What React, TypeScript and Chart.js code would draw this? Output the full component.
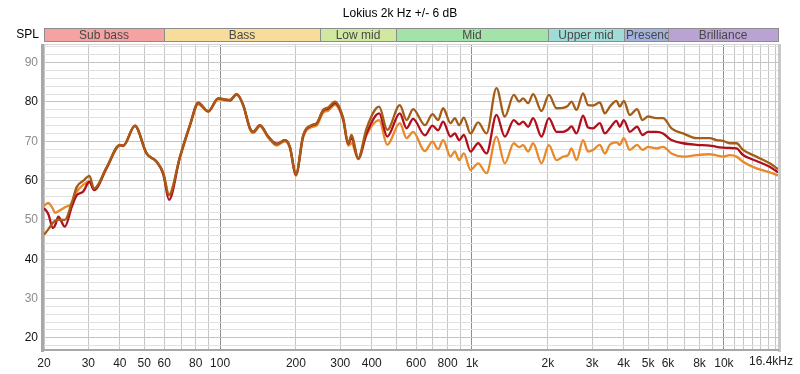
import React, { useEffect, useRef } from 'react';
import { Chart, registerables } from 'chart.js';

Chart.register(...registerables);

const TITLE = 'Lokius 2k Hz +/- 6 dB';
const Y_TITLE = 'SPL';

const FREQS = [
  20, 20.8, 21.7, 22.1, 22.8, 24.2, 25.8, 27, 28.6, 30.3,
  31.6, 35.5, 40, 41.3, 45.9, 51.1, 56, 59.5, 62.7, 69.3,
  75.9, 81.9, 89.7, 98.3, 109.4, 116.3, 123.6, 131.4, 135.4, 143.9,
  155.3, 167.7, 180.9, 189.3, 200, 213.8, 230.8, 241.6, 256.7, 268.8,
  285.6, 308.2, 322.6, 332.7, 353.4, 381.6, 428, 461, 517, 550,
  584, 650, 697, 734, 768, 822, 855, 889, 928, 987,
  1058, 1142, 1251, 1350, 1466, 1539, 1596, 1671, 1749, 1888,
  2020, 2166, 2300, 2408, 2483, 2600, 2761, 2890, 3026, 3217,
  3368, 3524, 3748, 3862, 4006, 4231, 4523, 4751, 5000, 5400,
  5735, 6194, 6886, 7783, 8790, 9339, 9922, 10552, 11220, 11914,
  13464, 15205, 16400,
];

const BOOST = [
  46.2, 47.6, 49.3, 49.7, 50.0, 50.0, 54.5, 58.4, 59.9, 61.2,
  58.0, 63.5, 69.1, 69.0, 74.0, 66.9, 64.8, 61.9, 56.3, 66.1,
  74.1, 79.7, 77.7, 80.9, 80.5, 82.0, 79.2, 73.3, 72.4, 74.1,
  71.2, 69.2, 70.3, 68.6, 61.6, 71.6, 74.1, 74.6, 78.0, 78.6,
  80.1, 75.9, 69.5, 71.6, 65.7, 73.3, 78.8, 72.9, 79.2, 75.4,
  78.2, 74.1, 76.9, 75.4, 78.4, 74.6, 75.9, 74.1, 76.0, 72.0,
  74.8, 72.0, 83.5, 76.3, 81.8, 80.1, 80.9, 79.7, 82.0, 77.7,
  81.8, 78.4, 78.5, 79.1, 80.1, 78.0, 82.2, 79.2, 79.1, 79.9,
  77.1, 78.8, 80.3, 78.8, 80.3, 76.7, 78.2, 75.4, 76.3, 75.9,
  75.9, 73.3, 72.0, 70.8, 70.8, 70.3, 70.1, 69.5, 69.5, 67.8,
  66.1, 64.4, 62.9,
];

const FLAT = [
  53.0, 51.5, 47.9, 48.5, 50.8, 48.3, 53.4, 56.3, 57.2, 59.7,
  57.6, 63.3, 69.0, 68.9, 74.0, 66.9, 64.8, 61.6, 55.1, 66.0,
  74.1, 79.8, 77.6, 80.9, 80.4, 82.0, 79.2, 73.3, 72.4, 74.1,
  71.2, 69.4, 70.3, 68.6, 61.5, 71.4, 74.0, 74.5, 77.8, 78.3,
  79.7, 75.6, 69.3, 70.8, 65.6, 72.0, 77.1, 71.2, 77.1, 73.3,
  75.7, 71.5, 74.0, 72.8, 75.0, 71.2, 72.0, 70.3, 71.6, 67.4,
  69.5, 66.9, 76.7, 71.2, 75.4, 74.3, 75.0, 73.7, 75.9, 71.2,
  75.9, 72.4, 72.4, 73.0, 73.8, 72.0, 76.5, 73.5, 73.3, 74.6,
  72.0, 73.3, 75.2, 73.7, 75.4, 72.4, 73.7, 71.6, 72.4, 72.4,
  72.0, 70.3, 69.5, 69.1, 68.9, 68.6, 68.4, 68.3, 68.2, 66.5,
  65.0, 63.5, 62.1,
];

const CUT = [
  53.6, 54.3, 52.8, 51.8, 52.2, 53.2, 54.2, 57.2, 58.9, 59.7,
  57.6, 63.2, 68.9, 68.8, 73.8, 66.8, 64.8, 62.0, 56.5, 65.8,
  73.8, 79.4, 77.5, 80.7, 80.3, 81.8, 79.0, 73.0, 72.1, 73.8,
  70.9, 68.9, 70.0, 68.2, 61.2, 71.0, 73.6, 74.0, 77.3, 77.8,
  79.3, 75.2, 68.9, 69.5, 65.4, 71.6, 75.4, 69.1, 74.6, 70.8,
  72.4, 67.5, 69.9, 68.0, 70.3, 66.1, 67.4, 65.2, 66.9, 62.7,
  64.4, 61.9, 71.2, 64.4, 69.5, 68.5, 69.0, 67.4, 69.5, 64.4,
  69.0, 65.2, 66.1, 66.5, 68.2, 65.2, 70.3, 67.4, 67.8, 69.1,
  66.9, 69.1, 69.7, 69.1, 70.8, 67.8, 69.1, 67.8, 68.6, 68.2,
  68.6, 66.9, 66.1, 66.5, 66.7, 66.4, 66.1, 66.5, 66.1, 64.8,
  63.1, 62.1, 61.3,
];

const X_MIN = 20;
const X_MAX = 16400;
const Y_MIN = 16.9;
const Y_MAX = 94.75;

const X_GRID = [
  20, 30, 40, 50, 60, 70, 80, 90, 100, 200, 300, 400, 500, 600, 700, 800, 900,
  1000, 2000, 3000, 4000, 5000, 6000, 7000, 8000, 9000, 10000, 11000, 12000,
  13000, 14000, 15000, 16000, 16400,
];
const X_DARK = [100, 1000, 10000];
const X_LABEL_VALUES = [20, 30, 40, 50, 60, 80, 100, 200, 300, 400, 600, 800, 1000, 2000, 3000, 4000, 5000, 6000, 8000, 10000];
const X_LABEL_TEXT = ['20', '30', '40', '50', '60', '80', '100', '200', '300', '400', '600', '800', '1k', '2k', '3k', '4k', '5k', '6k', '8k', '10k'];
const X_END_LABEL = '16.4kHz';

const Y_GRID = [18, 20, 22, 24, 26, 28, 30, 32, 34, 36, 38, 40, 42, 44, 46, 48, 50, 52, 54, 56, 58, 60, 62, 64, 66, 68, 70, 72, 74, 76, 78, 80, 82, 84, 86, 88, 90, 92, 94];
const Y_LABEL_VALUES = [20, 30, 40, 50, 60, 70, 80, 90];
const Y_DARK_LABELS = [20, 40, 60, 80];

const BAND_NAMES = ['Sub bass', 'Bass', 'Low mid', 'Mid', 'Upper mid', 'Presence', 'Brilliance'];
const BAND_EDGES = [20, 60, 250, 500, 2000, 4000, 6000, 16400];
const BAND_COLORS = ['#f4a2a2', '#f7dc9c', '#d0e8a0', '#a3e2a8', '#a0dcd6', '#a3b2dc', '#b9a3d3'];

const FONT = '"Liberation Sans", Arial, sans-serif';

const decorPlugin = {
  id: 'decor',
  afterDraw(chart: any) {
    const { ctx, chartArea: a, scales } = chart;
    const x = scales.x;
    ctx.save();
    ctx.font = `12px ${FONT}`;
    ctx.textBaseline = 'middle';
    ctx.fillStyle = '#000';
    ctx.textAlign = 'center';
    ctx.fillText(TITLE, chart.width / 2, 13.5);
    ctx.textAlign = 'right';
    ctx.fillText(Y_TITLE, 39, 34.5);
    const top = 28;
    const bottom = 41;
    for (let i = 0; i < BAND_NAMES.length; i++) {
      const x0 = Math.round(x.getPixelForValue(BAND_EDGES[i]));
      const x1 = Math.round(x.getPixelForValue(BAND_EDGES[i + 1]));
      ctx.fillStyle = BAND_COLORS[i];
      ctx.fillRect(x0, top, x1 - x0, bottom - top);
      ctx.strokeStyle = '#8c8c8c';
      ctx.lineWidth = 1;
      ctx.strokeRect(x0 + 0.5, top + 0.5, x1 - x0, bottom - top);
      ctx.save();
      ctx.beginPath();
      ctx.rect(x0 + 1, top, x1 - x0 - 1, bottom - top);
      ctx.clip();
      ctx.fillStyle = '#484848';
      const w = ctx.measureText(BAND_NAMES[i]).width;
      if (w > x1 - x0 - 4) {
        ctx.textAlign = 'left';
        ctx.fillText(BAND_NAMES[i], x0 + 2, (top + bottom) / 2 + 1);
      } else {
        ctx.textAlign = 'center';
        ctx.fillText(BAND_NAMES[i], (x0 + x1) / 2, (top + bottom) / 2 + 1);
      }
      ctx.restore();
    }
    ctx.fillStyle = '#d4d4d4';
    ctx.fillRect(a.left, a.top, a.right - a.left, 1);
    ctx.fillStyle = '#c8c8c8';
    ctx.fillRect(a.right, a.top, 3, a.bottom - a.top + 2);
    ctx.fillStyle = '#a8a8a8';
    ctx.fillRect(a.left - 3, a.top, 3, a.bottom - a.top + 2);
    ctx.fillRect(a.left - 3, a.bottom - 1, a.right - a.left + 4, 2);
    ctx.fillStyle = '#222';
    ctx.textAlign = 'center';
    ctx.textBaseline = 'top';
    ctx.fillText(X_END_LABEL, x.getPixelForValue(X_MAX) - 7, a.bottom + 6);
    ctx.restore();
  },
};

export default function App() {
  const ref = useRef<HTMLCanvasElement | null>(null);
  useEffect(() => {
    if (!ref.current) return;
    const mk = (vals: number[]) => FREQS.map((f, i) => ({ x: f, y: vals[i] }));
    const chart = new Chart(ref.current, {
      type: 'line',
      data: {
        datasets: [
          { label: '+6 dB', data: mk(BOOST), borderColor: '#a35d18', borderWidth: 2.3, pointRadius: 0, cubicInterpolationMode: 'monotone' },
          { label: '0 dB', data: mk(FLAT), borderColor: '#b0101e', borderWidth: 2.3, pointRadius: 0, cubicInterpolationMode: 'monotone' },
          { label: '-6 dB', data: mk(CUT), borderColor: '#e8892a', borderWidth: 2.3, pointRadius: 0, cubicInterpolationMode: 'monotone' },
        ],
      },
      options: {
        animation: false,
        responsive: false,
        layout: { padding: { top: 44, right: 22, left: 0, bottom: 0 } },
        plugins: { legend: { display: false }, tooltip: { enabled: false }, title: { display: false } },
        scales: {
          x: {
            type: 'logarithmic',
            min: X_MIN,
            max: X_MAX,
            afterBuildTicks: (s: any) => { s.ticks = X_GRID.map((v) => ({ value: v })); },
            afterFit: (s: any) => { s.height = 24; },
            border: { display: false },
            grid: {
              drawTicks: false,
              color: (c: any) => (X_DARK.includes(c.tick?.value) ? '#8c8c8c' : '#c4c4c4'),
            },
            ticks: {
              autoSkip: false,
              maxRotation: 0,
              minRotation: 0,
              padding: 6,
              color: '#222',
              font: { family: FONT, size: 12 },
              callback: (v: any) => {
                const i = X_LABEL_VALUES.indexOf(Number(v));
                return i >= 0 ? X_LABEL_TEXT[i] : '';
              },
            },
          },
          y: {
            type: 'linear',
            z: -1,
            min: Y_MIN,
            max: Y_MAX,
            afterBuildTicks: (s: any) => { s.ticks = Y_GRID.map((v) => ({ value: v })); },
            afterFit: (s: any) => { s.width = 44; },
            border: { display: false },
            grid: {
              drawTicks: false,
              color: (c: any) => (c.tick && c.tick.value % 10 === 0 ? '#c4c4c4' : '#e0e0e0'),
            },
            ticks: {
              autoSkip: false,
              padding: 6,
              font: { family: FONT, size: 12 },
              color: (c: any) => (Y_DARK_LABELS.includes(c.tick?.value) ? '#111' : '#8c8c8c'),
              callback: (v: any) => (Y_LABEL_VALUES.includes(Number(v)) ? String(v) : ''),
            },
          },
        },
      },
      plugins: [decorPlugin],
    } as any);
    return () => chart.destroy();
  }, []);
  return (
    <div style={{ position: 'fixed', left: 0, top: 0, width: 800, height: 374, background: '#fff' }}>
      <canvas ref={ref} width={800} height={374} style={{ display: 'block' }} />
    </div>
  );
}
